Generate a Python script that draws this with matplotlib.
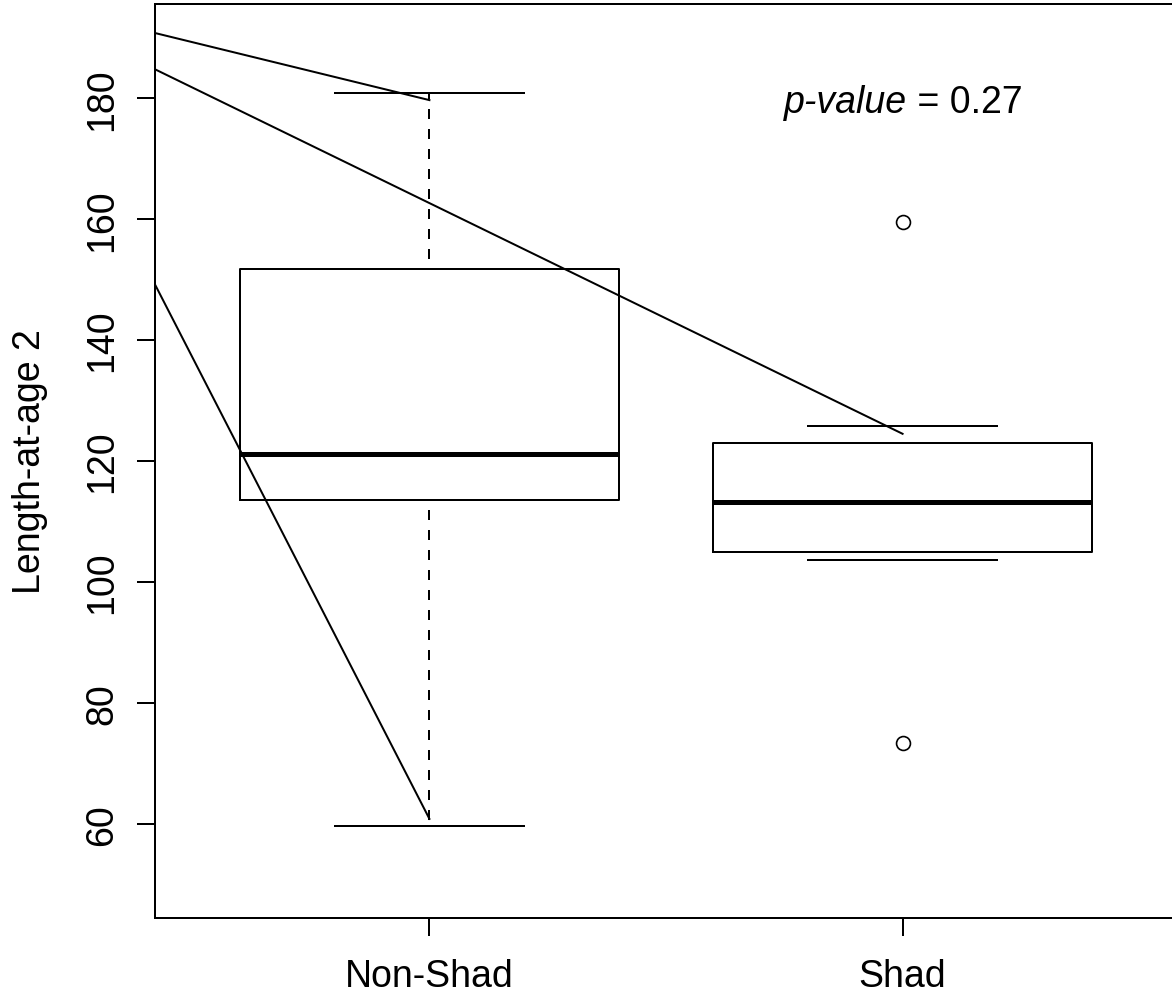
import matplotlib
matplotlib.use("Agg")
import matplotlib.pyplot as plt

plt.rcParams['font.family'] = ['Liberation Sans', 'DejaVu Sans']

# groups and box statistics
groups = ["Non-Shad", "Shad"]
positions = [1, 2]
q1 = [113.5, 104.9]
medians = [121.1, 113.2]
q3 = [151.8, 122.9]
whislo = [59.6, 103.6]
whishi = [180.8, 125.8]
outliers = [[], [159.6, 73.3]]

# stray diagonal lines (start at the left edge of the plot, end on a group)
line_x0 = [0.42, 0.42, 0.42]
line_y0 = [190.8, 184.8, 149.2]
line_x1 = [1, 2, 1]
line_y1 = [179.7, 124.5, 60.8]

pvalue = 0.27

fig = plt.figure(figsize=(11.72, 9.95), dpi=100)
ax = fig.add_axes([155 / 1172, 76 / 995, 1022 / 1172, 914 / 995])

stats = []
for i in range(len(groups)):
    stats.append(dict(label=groups[i], q1=q1[i], med=medians[i], q3=q3[i],
                      whislo=whislo[i], whishi=whishi[i], fliers=outliers[i]))

lw = 1.44
parts = ax.bxp(stats, positions=positions, widths=0.8, showfliers=True,
               boxprops=dict(color="black", linewidth=lw),
               medianprops=dict(color="black", linewidth=3.6, solid_capstyle="butt"),
               whiskerprops=dict(color="black", linewidth=lw, linestyle=(5, (5, 5))),
               capprops=dict(color="black", linewidth=lw),
               capwidths=0.4,
               flierprops=dict(marker="o", markersize=10, markerfacecolor="none",
                               markeredgecolor="black", markeredgewidth=1.2))
# the Shad whiskers are too short to show a dash in the original
parts["whiskers"][2].set_visible(False)
parts["whiskers"][3].set_visible(False)

# lines drawn over the plot
for x0, y0, x1, y1 in zip(line_x0, line_y0, line_x1, line_y1):
    ax.plot([x0, x1], [y0, y1], color="black", linewidth=lw)

ax.set_xlim(0.42, 2.58)
ax.set_ylim(44.4, 195.6)

ax.set_xticks(positions)
ax.set_xticklabels(groups)
ax.set_yticks([60, 80, 100, 120, 140, 160, 180])
ax.set_yticklabels(["60", "80", "100", "120", "140", "160", "180"], rotation=90, va="center")
ax.tick_params(axis="both", direction="out", length=13, width=lw, labelsize=27)
ax.tick_params(axis="y", pad=12)
ax.tick_params(axis="x", pad=16)
for s in ax.spines.values():
    s.set_linewidth(lw)

ax.set_ylabel("Length-at-age 2", fontsize=27, labelpad=26)

t = ax.text(1.75, 177.7, "p-value", style="italic", fontsize=27, ha="left", va="baseline")
ax.annotate(" = " + str(pvalue), xy=(1, 0), xycoords=t, fontsize=27, ha="left", va="bottom")

fig.savefig("out.png", dpi=100)
